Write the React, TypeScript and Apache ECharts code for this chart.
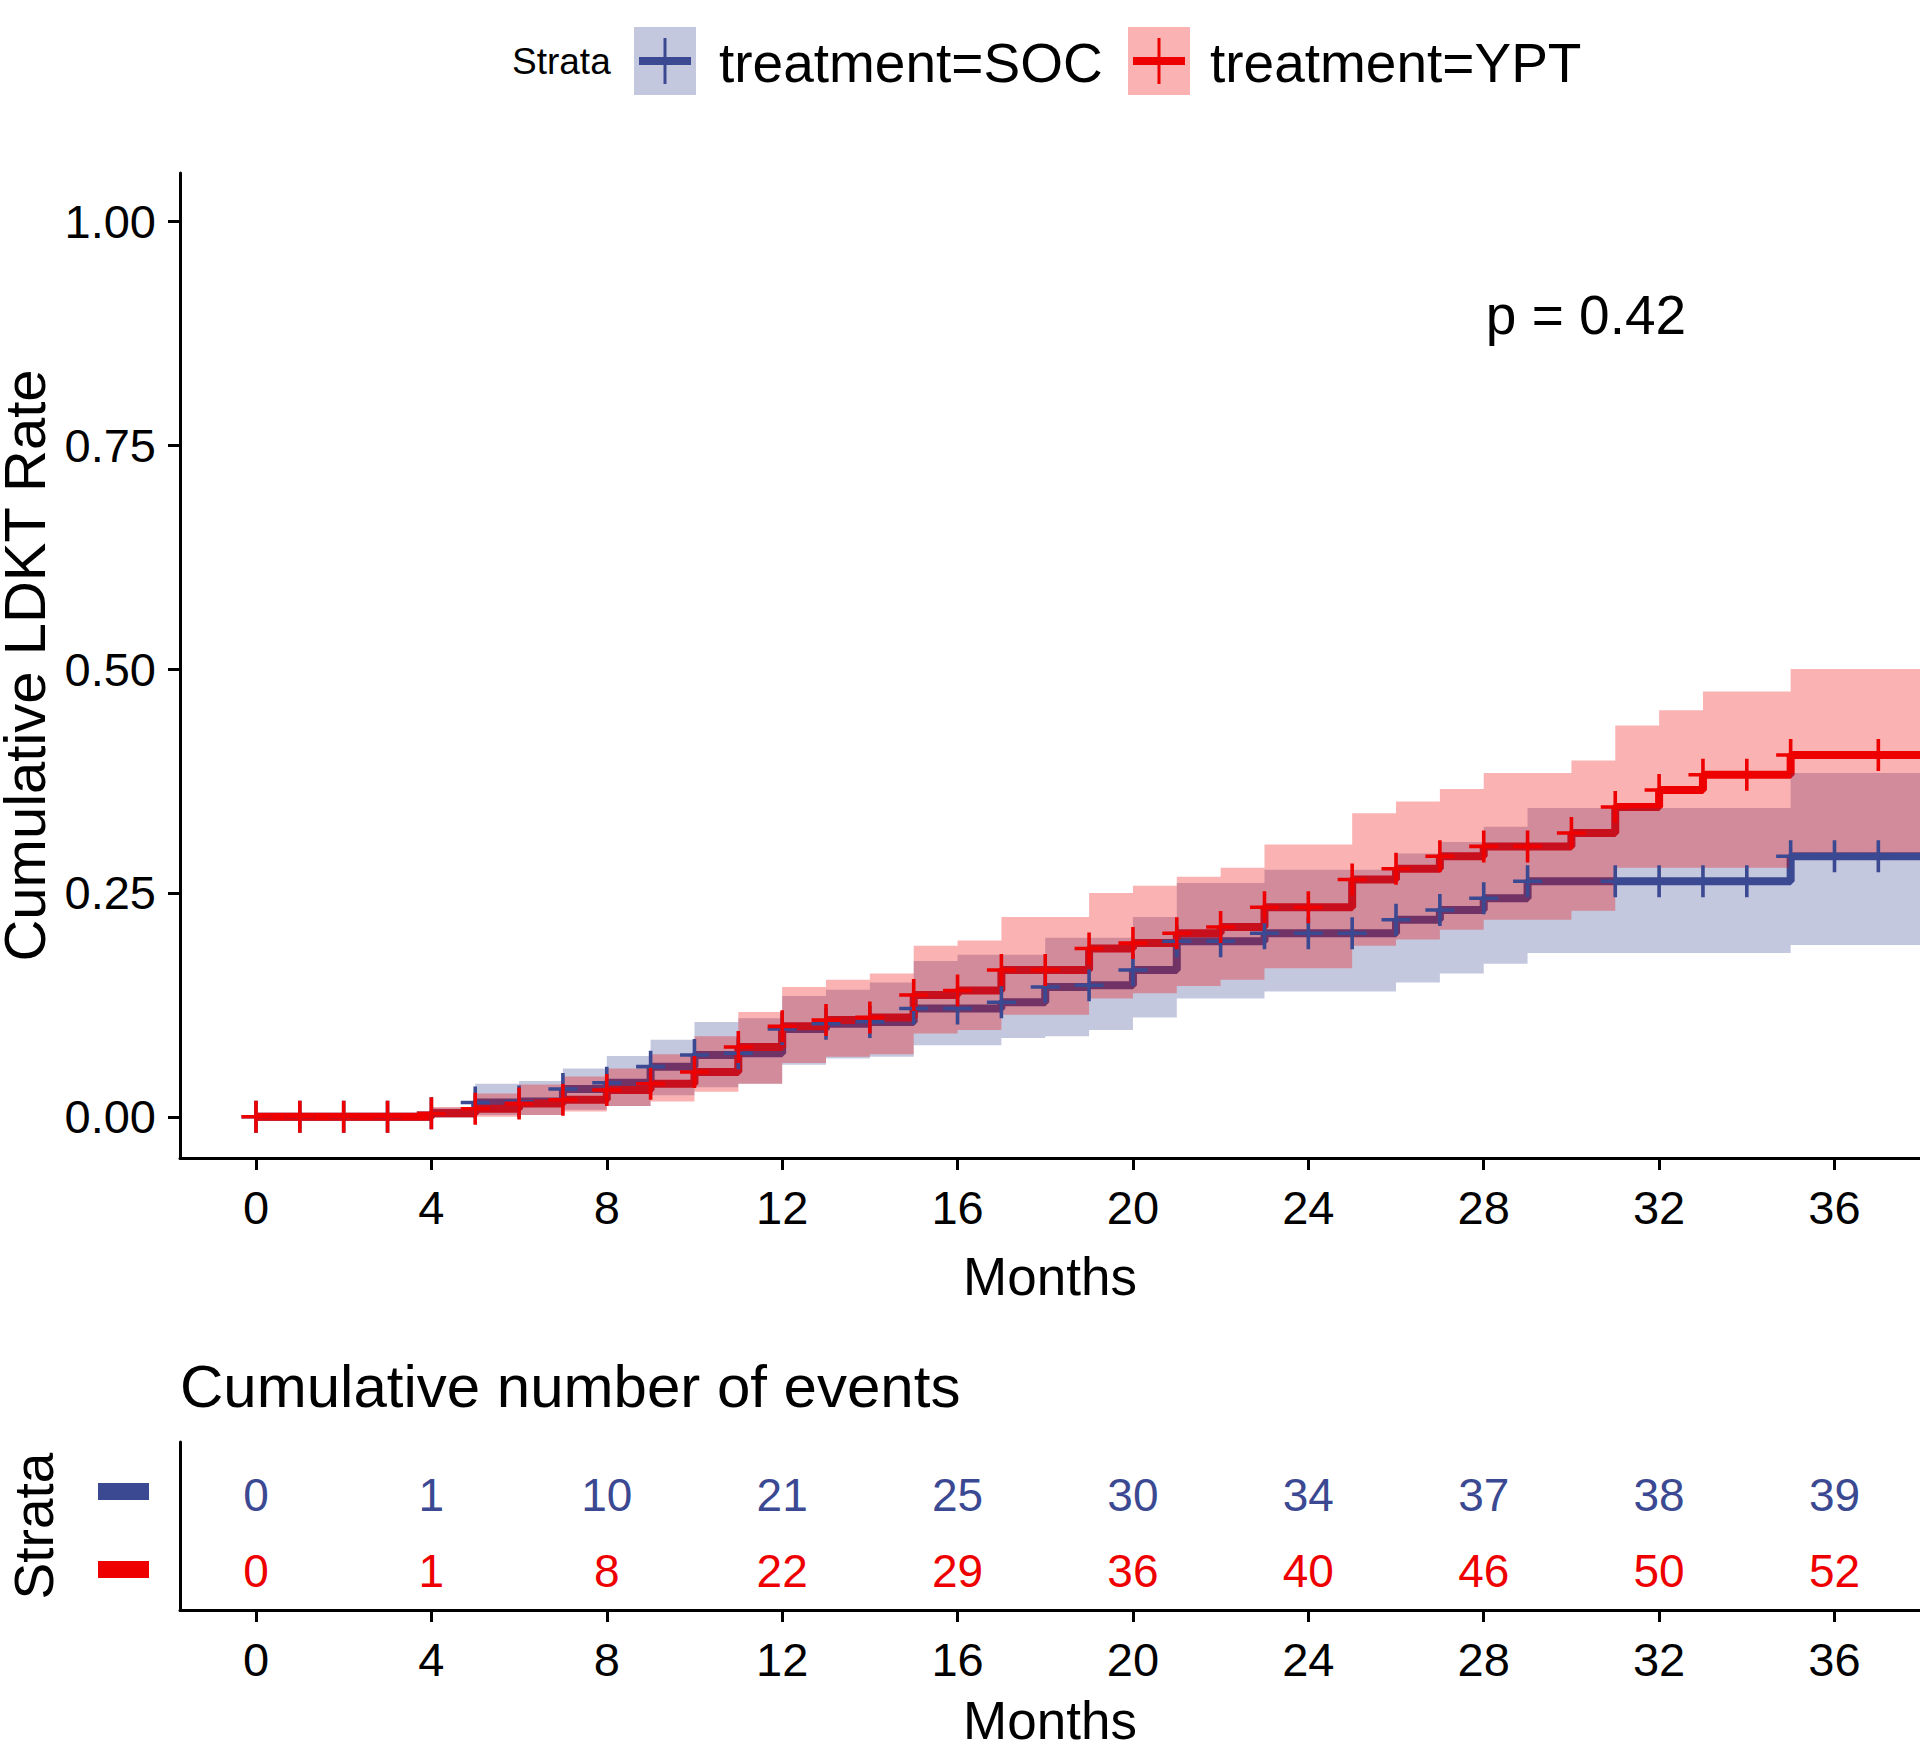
import React, { useEffect, useRef } from "react";
import * as echarts from "echarts";

const FONT = "'Liberation Sans', Arial, Helvetica, sans-serif";
const SOC_COLOR = "#3B4992";
const YPT_COLOR = "#EE0000";
const SOC_FILL = "rgba(59,73,146,0.3)";
const YPT_FILL = "rgba(238,0,0,0.3)";

// month index 0..37 (value holds from month i to i+1)
const months = [0,1,2,3,4,5,6,7,8,9,10,11,12,13,14,15,16,17,18,19,20,21,22,23,24,25,26,27,28,29,30,31,32,33,34,35,36,37];
const curveEnd = 38;

const socEst = [0,0,0,0,0.004,0.016,0.017,0.031,0.038,0.056,0.069,0.071,0.098,0.104,0.106,0.121,0.121,0.128,0.145,0.147,0.164,0.196,0.196,0.205,0.205,0.205,0.22,0.231,0.244,0.263,0.263,0.263,0.263,0.263,0.263,0.291,0.291,0.291];
const socLower = [0,0,0,0,0,0.002,0.002,0.008,0.012,0.024,0.033,0.037,0.058,0.065,0.067,0.08,0.08,0.088,0.09,0.097,0.111,0.132,0.132,0.14,0.14,0.14,0.15,0.16,0.171,0.183,0.183,0.183,0.183,0.183,0.183,0.192,0.192,0.192];
const socUpper = [0,0,0,0,0.01,0.037,0.04,0.054,0.068,0.086,0.106,0.11,0.135,0.142,0.15,0.174,0.181,0.181,0.2,0.2,0.223,0.261,0.261,0.276,0.276,0.276,0.294,0.307,0.324,0.345,0.345,0.345,0.345,0.345,0.345,0.384,0.384,0.384];

const yptEst = [0,0,0,0,0.004,0.009,0.015,0.019,0.03,0.037,0.05,0.078,0.101,0.108,0.111,0.136,0.141,0.164,0.164,0.188,0.194,0.205,0.212,0.234,0.234,0.265,0.277,0.291,0.302,0.302,0.317,0.346,0.365,0.382,0.382,0.404,0.404,0.404];
const yptLower = [0,0,0,0,0,0,0.002,0.006,0.012,0.017,0.028,0.037,0.06,0.067,0.07,0.093,0.097,0.114,0.114,0.132,0.138,0.146,0.153,0.166,0.166,0.191,0.198,0.209,0.22,0.22,0.23,0.278,0.278,0.278,0.278,0.295,0.295,0.295];
const yptUpper = [0,0,0,0,0.011,0.026,0.036,0.045,0.054,0.07,0.09,0.117,0.145,0.153,0.16,0.191,0.197,0.223,0.223,0.25,0.258,0.268,0.278,0.304,0.304,0.339,0.352,0.366,0.384,0.384,0.398,0.437,0.454,0.475,0.475,0.5,0.5,0.5];

// months with censoring marks
const socCensor = [0,1,2,3,4,5,6,7,8,9,10,11,12,13,14,15,16,17,18,19,20,21,22,23,24,25,26,27,28,29,31,32,33,34,35,36,37];
const yptCensor = [0,1,2,3,4,5,6,7,8,9,10,11,12,13,14,15,16,17,18,19,20,21,22,23,24,25,26,27,28,29,30,31,32,33,34,35,37];

// risk table
const tableMonths = [0,4,8,12,16,20,24,28,32,36];
const socEvents = [0,1,10,21,25,30,34,37,38,39];
const yptEvents = [0,1,8,22,29,36,40,46,50,52];

const xTicks = [0,4,8,12,16,20,24,28,32,36];
const yTicks = [0,0.25,0.5,0.75,1];

const X_MIN = -1.733;
const X_MAX = 37.95;

const PLUS = "path://M12.7,0h3.6v32h-3.6z M0,14.2h29v3.6h-29z";

function stepPairs(vals: number[]) {
  const d = months.map((m, i) => [m, vals[i]]);
  d.push([curveEnd, vals[vals.length - 1]]);
  return d;
}

function bandSeries(lo: number[], up: number[], fill: string) {
  return {
    type: "custom",
    coordinateSystem: "cartesian2d",
    xAxisIndex: 0,
    yAxisIndex: 0,
    z: 3,
    silent: true,
    data: [[0, 0]],
    renderItem: (_params: any, api: any) => {
      const n = months.length;
      const endX = Math.min(curveEnd, X_MAX);
      const pts: number[][] = [];
      for (let i = 0; i < n; i++) {
        const x0 = months[i];
        const x1 = i < n - 1 ? months[i + 1] : endX;
        pts.push(api.coord([x0, up[i]]), api.coord([x1, up[i]]));
      }
      for (let i = n - 1; i >= 0; i--) {
        const x0 = months[i];
        const x1 = i < n - 1 ? months[i + 1] : endX;
        pts.push(api.coord([x1, lo[i]]), api.coord([x0, lo[i]]));
      }
      return { type: "polygon", shape: { points: pts }, style: { fill } };
    },
  };
}

export default function App() {
  const ref = useRef<HTMLDivElement>(null);
  useEffect(() => {
    if (!ref.current) return;
    const chart = echarts.init(ref.current, undefined, { renderer: "svg" });

    const axisLine = { show: true, onZero: false, lineStyle: { color: "#000", width: 3 } };
    const axisTick = (vals: number[]) => ({ show: true, length: 12, lineStyle: { color: "#000", width: 3 }, customValues: vals });

    const option: any = {
      animation: false,
      textStyle: { fontFamily: FONT },
      grid: [
        { left: 180, top: 173, width: 1740, height: 985, containLabel: false, outerBoundsMode: "none" },
        { left: 180, top: 1442, width: 1740, height: 168, containLabel: false, outerBoundsMode: "none" },
      ],
      xAxis: [
        {
          type: "value", gridIndex: 0, min: X_MIN, max: X_MAX,
          axisLine, axisTick: axisTick(xTicks), splitLine: { show: false },
          axisLabel: { customValues: xTicks, fontSize: 47, color: "#000", fontFamily: FONT, margin: 26 },
          name: "Months", nameLocation: "middle", nameGap: 118,
          nameTextStyle: { fontSize: 53, color: "#000", fontFamily: FONT, verticalAlign: "middle" },
        },
        {
          type: "value", gridIndex: 1, min: X_MIN, max: X_MAX,
          axisLine, axisTick: axisTick(xTicks), splitLine: { show: false },
          axisLabel: { customValues: xTicks, fontSize: 47, color: "#000", fontFamily: FONT, margin: 26 },
          name: "Months", nameLocation: "middle", nameGap: 110,
          nameTextStyle: { fontSize: 53, color: "#000", fontFamily: FONT, verticalAlign: "middle" },
        },
      ],
      yAxis: [
        {
          type: "value", gridIndex: 0, min: -0.046, max: 1.054,
          axisLine, axisTick: axisTick(yTicks), splitLine: { show: false },
          axisLabel: { customValues: yTicks, fontSize: 47, color: "#000", fontFamily: FONT, margin: 24, formatter: (v: number) => v.toFixed(2) },
          name: "Cumulative LDKT Rate", nameLocation: "middle", nameGap: 143,
          nameTextStyle: { fontSize: 58, color: "#000", fontFamily: FONT, verticalAlign: "middle" },
        },
        {
          type: "value", gridIndex: 1, min: 0.487, max: 2.697,
          axisLine, axisTick: { show: false }, axisLabel: { show: false }, splitLine: { show: false },
          name: "Strata", nameLocation: "middle", nameGap: 146,
          nameTextStyle: { fontSize: 55, color: "#000", fontFamily: FONT, verticalAlign: "middle" },
        },
      ],
      series: [
        {
          type: "line", name: "treatment=SOC", step: "end", data: stepPairs(socEst), symbol: "none",
          lineStyle: { color: SOC_COLOR, width: 8 }, z: 2, silent: true,
        },
        {
          type: "line", name: "treatment=YPT", step: "end", data: stepPairs(yptEst), symbol: "none",
          lineStyle: { color: YPT_COLOR, width: 8 }, z: 2, silent: true,
        },
        bandSeries(socLower, socUpper, SOC_FILL),
        bandSeries(yptLower, yptUpper, YPT_FILL),
        {
          type: "scatter", name: "socCensor", symbol: PLUS, symbolSize: [29, 32],
          data: socCensor.map((m) => [m, socEst[months.indexOf(m)]]),
          itemStyle: { color: SOC_COLOR, opacity: 1 }, z: 4, silent: true,
        },
        {
          type: "scatter", name: "yptCensor", symbol: PLUS, symbolSize: [29, 32],
          data: yptCensor.map((m) => [m, yptEst[months.indexOf(m)]]),
          itemStyle: { color: YPT_COLOR, opacity: 1 }, z: 4, silent: true,
        },
        {
          type: "scatter", name: "socTable", xAxisIndex: 1, yAxisIndex: 1, symbolSize: 0,
          data: tableMonths.map((m, i) => [m, 2, socEvents[i]]),
          itemStyle: { opacity: 1 },
          label: { show: true, position: "inside", formatter: (p: any) => String(p.value[2]), fontSize: 46, color: SOC_COLOR, opacity: 1, fontFamily: FONT },
          silent: true,
        },
        {
          type: "scatter", name: "yptTable", xAxisIndex: 1, yAxisIndex: 1, symbolSize: 0,
          data: tableMonths.map((m, i) => [m, 1, yptEvents[i]]),
          itemStyle: { opacity: 1 },
          label: { show: true, position: "inside", formatter: (p: any) => String(p.value[2]), fontSize: 46, color: YPT_COLOR, opacity: 1, fontFamily: FONT },
          silent: true,
        },
      ],
      graphic: [
        { type: "text", x: 512, y: 61, style: { text: "Strata", fill: "#000", fontSize: 37, fontFamily: FONT, verticalAlign: "middle", textVerticalAlign: "middle" } },
        { type: "rect", shape: { x: 634, y: 27, width: 62, height: 68 }, style: { fill: SOC_FILL } },
        { type: "line", shape: { x1: 639, y1: 61, x2: 691, y2: 61 }, style: { stroke: SOC_COLOR, lineWidth: 8 } },
        { type: "line", shape: { x1: 665, y1: 38, x2: 665, y2: 84 }, style: { stroke: SOC_COLOR, lineWidth: 3 } },
        { type: "text", x: 719, y: 63, style: { text: "treatment=SOC", fill: "#000", fontSize: 55, fontFamily: FONT, verticalAlign: "middle", textVerticalAlign: "middle" } },
        { type: "rect", shape: { x: 1128, y: 27, width: 62, height: 68 }, style: { fill: YPT_FILL } },
        { type: "line", shape: { x1: 1133, y1: 61, x2: 1185, y2: 61 }, style: { stroke: YPT_COLOR, lineWidth: 8 } },
        { type: "line", shape: { x1: 1159, y1: 38, x2: 1159, y2: 84 }, style: { stroke: YPT_COLOR, lineWidth: 3 } },
        { type: "text", x: 1210, y: 63, style: { text: "treatment=YPT", fill: "#000", fontSize: 55, fontFamily: FONT, verticalAlign: "middle", textVerticalAlign: "middle" } },
        { type: "text", x: 1586, y: 315, style: { text: "p = 0.42", fill: "#000", fontSize: 55, fontFamily: FONT, align: "center", textAlign: "center", verticalAlign: "middle", textVerticalAlign: "middle" } },
        { type: "text", x: 180, y: 1386, style: { text: "Cumulative number of events", fill: "#000", fontSize: 60, fontFamily: FONT, verticalAlign: "middle", textVerticalAlign: "middle" } },
        { type: "rect", shape: { x: 98, y: 1483, width: 51, height: 17 }, style: { fill: SOC_COLOR } },
        { type: "rect", shape: { x: 98, y: 1561, width: 51, height: 17 }, style: { fill: YPT_COLOR } },
      ],
    };

    chart.setOption(option);
    return () => chart.dispose();
  }, []);

  return (
    <div
      ref={ref}
      style={{ position: "absolute", left: 0, top: 0, width: 1920, height: 1749, background: "#fff" }}
    />
  );
}
